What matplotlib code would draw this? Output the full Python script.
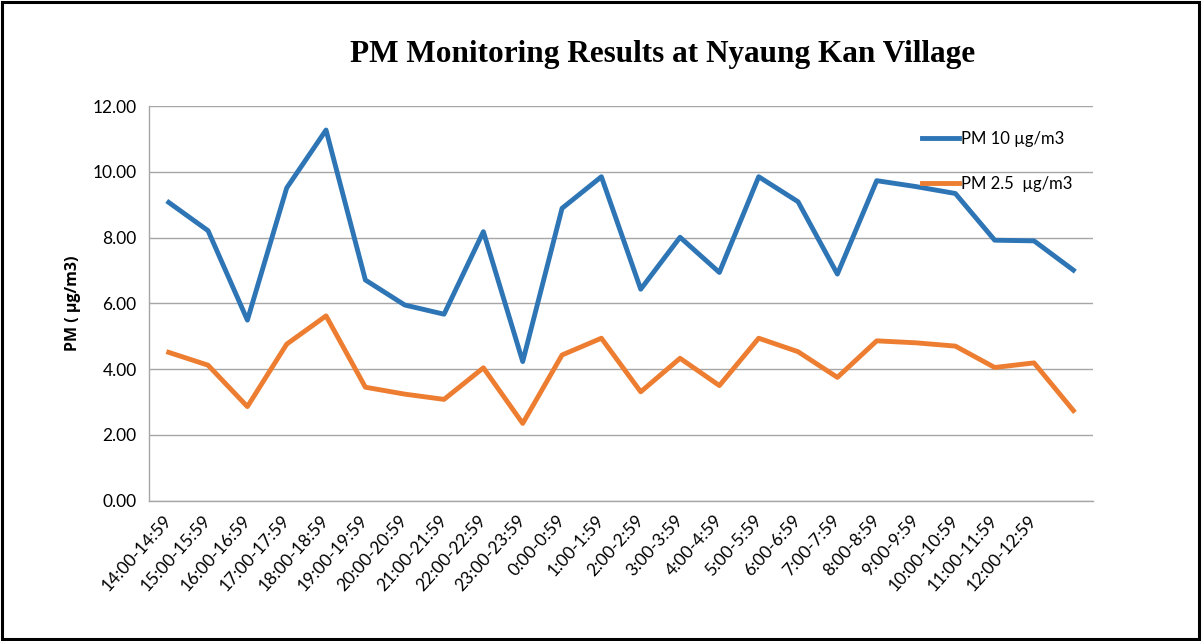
import matplotlib.pyplot as plt
from matplotlib.patches import Rectangle

# hourly slots (last point has no label in the original)
hours = ["14:00-14:59", "15:00-15:59", "16:00-16:59", "17:00-17:59", "18:00-18:59",
         "19:00-19:59", "20:00-20:59", "21:00-21:59", "22:00-22:59", "23:00-23:59",
         "0:00-0:59", "1:00-1:59", "2:00-2:59", "3:00-3:59", "4:00-4:59",
         "5:00-5:59", "6:00-6:59", "7:00-7:59", "8:00-8:59", "9:00-9:59",
         "10:00-10:59", "11:00-11:59", "12:00-12:59"]

pm10 = [9.07, 8.21, 5.49, 9.51, 11.27, 6.71, 5.95, 5.67, 8.18, 4.23, 8.89, 9.85,
        6.43, 8.01, 6.94, 9.85, 9.09, 6.89, 9.73, 9.55, 9.34, 7.92, 7.90, 7.01]
pm25 = [4.51, 4.12, 2.86, 4.76, 5.62, 3.45, 3.24, 3.08, 4.04, 2.35, 4.43, 4.94,
        3.31, 4.33, 3.50, 4.94, 4.53, 3.75, 4.86, 4.80, 4.70, 4.05, 4.19, 2.74]

yticks = [0, 2, 4, 6, 8, 10, 12]

fig = plt.figure(figsize=(12.03, 6.41), dpi=100)
ax = fig.add_axes([0.1239, 0.2189, 0.7847, 0.6157])

x = [i + 0.5 for i in range(len(pm10))]
ax.plot(x, pm10, color='#2E75B6', lw=3.5, label='PM 10 µg/m3', solid_joinstyle='round')
ax.plot(x, pm25, color='#ED7D31', lw=3.5, label='PM 2.5  µg/m3', solid_joinstyle='round')

ax.set_xlim(0, len(pm10))
ax.set_ylim(0, 12)
ax.set_yticks(yticks)
ax.set_yticklabels([f"{v:.2f}" for v in yticks], fontsize=12.5, family='Lato')
ax.yaxis.grid(True, color='#A6A6A6', lw=1)
ax.set_axisbelow(True)

ax.set_xticks([i + 0.5 for i in range(len(hours))])
ax.set_xticklabels(hours, rotation=48, ha='right', va='center',
                   rotation_mode='anchor', fontsize=12.5, family='Lato')
ax.tick_params(axis='both', length=0)
ax.tick_params(axis='x', pad=12)
ax.tick_params(axis='y', pad=9)

for s in ['top', 'right']:
    ax.spines[s].set_visible(False)
for s in ['left', 'bottom']:
    ax.spines[s].set_color('#A6A6A6')
    ax.spines[s].set_linewidth(1)

ax.set_ylabel('PM ( µg/m3)', fontsize=11.5, fontweight='bold', family='Open Sans', labelpad=8)

fig.text(0.551, 0.915, 'PM Monitoring Results at Nyaung Kan Village', ha='center', va='center',
         fontsize=22.5, fontweight='bold', family='Liberation Serif')

ax.legend(loc='upper left', bbox_to_anchor=(0.803, 0.975), frameon=False,
          prop={'family': 'Lato', 'size': 12}, handlelength=2.2, handletextpad=0.15,
          labelspacing=1.75)

fig.patches.append(Rectangle((0.002, 0.003), 0.995, 0.994, transform=fig.transFigure,
                             fill=False, edgecolor='black', lw=2.2))

fig.savefig('out.png', dpi=100)
